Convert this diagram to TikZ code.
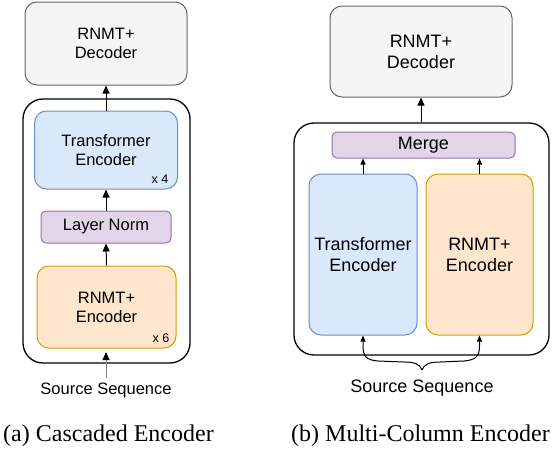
\documentclass[tikz,border=0pt]{standalone}
\usepackage{fontspec}
\setmainfont{Liberation Serif}
\newfontfamily\arialf{Liberation Sans}
\usetikzlibrary{arrows.meta}
\definecolor{grayfill}{HTML}{F5F5F5}
\definecolor{graydraw}{HTML}{666666}
\definecolor{bluefill}{HTML}{DAE8FC}
\definecolor{bluedraw}{HTML}{6C8EBF}
\definecolor{orfill}{HTML}{FFE6CC}
\definecolor{ordraw}{HTML}{D79B00}
\definecolor{pufill}{HTML}{E1D5E7}
\definecolor{pudraw}{HTML}{9673A6}
\tikzset{
  box/.style={rectangle, rounded corners=12pt, inner sep=0pt, align=center, line width=1pt},
  decbox/.style={box, fill=grayfill, draw=graydraw},
  tebox/.style={box, fill=bluefill, draw=bluedraw},
  rebox/.style={box, fill=orfill, draw=ordraw},
  lnbox/.style={box, rounded corners=5pt, fill=pufill, draw=pudraw},
  outerbox/.style={rectangle, rounded corners=20pt, draw=black, line width=1.3pt, inner sep=0pt},
  arr/.style={line width=1pt, -{Triangle[length=8pt,width=7pt]}},
  sarr/.style={line width=1pt, -{Triangle[length=6pt,width=5pt]}},
  lefttxt/.style={font=\arialf\fontsize{16.5}{19}\selectfont},
  righttxt/.style={font=\arialf\fontsize{18}{21}\selectfont},
  smalltxt/.style={font=\arialf\fontsize{12.5}{14}\selectfont, inner sep=0pt},
  captxt/.style={font=\fontsize{24}{28}\selectfont, inner sep=0pt},
}
\begin{document}
\begin{tikzpicture}[x=1pt,y=-1pt]
\useasboundingbox (0,0) rectangle (558,450);
% ---------- left: cascaded ----------
\node[decbox, lefttxt, minimum width=162pt, minimum height=83pt] (dec1) at (106,43.5) {RNMT+\\Decoder};
\node[outerbox, minimum width=167pt, minimum height=264pt] (outer1) at (106.5,231) {};
\node[tebox, lefttxt, minimum width=143pt, minimum height=78pt] (te1) at (106,150) {Transformer\\Encoder};
\node[smalltxt] (x4) at (160,179) {x 4};
\node[lnbox, lefttxt, minimum width=130pt, minimum height=32pt] (ln1) at (106,227) {Layer Norm};
\node[rebox, lefttxt, minimum width=139pt, minimum height=82pt] (re1) at (106.5,307) {RNMT+\\Encoder};
\node[smalltxt] (x6) at (161,338) {x 6};
\node[lefttxt, inner sep=0pt] (src1) at (106,390) {Source Sequence};
\coordinate (src1tip) at (106,352);
\draw[arr] (te1.north) -- (dec1.south);
\draw[arr] (ln1.north) -- (te1.south);
\draw[arr] (re1.north) -- (ln1.south);
\draw[line width=1pt, draw=graydraw!80, -{Triangle[length=8pt,width=7pt,color=black]}] (106,378) -- (src1tip);
\node[captxt] (cap1) at (108.5,436) {(a) Cascaded Encoder};
% ---------- right: multi-column ----------
\node[decbox, righttxt, minimum width=182pt, minimum height=91pt] (dec2) at (421,51.5) {RNMT+\\Decoder};
\node[outerbox, minimum width=255pt, minimum height=232pt] (outer2) at (421.5,239) {};
\node[lnbox, righttxt, minimum width=183pt, minimum height=26pt] (merge) at (423.5,145) {Merge};
\node[tebox, righttxt, minimum width=108pt, minimum height=161pt] (te2) at (363,254.5) {Transformer\\Encoder};
\node[rebox, righttxt, minimum width=107pt, minimum height=161pt] (re2) at (479.5,254.5) {RNMT+\\Encoder};
\node[righttxt, inner sep=0pt] (src2) at (422,388) {Source Sequence};
\coordinate (brace) at (422,370);
\draw[arr] (outer2.north -| dec2.south) -- (dec2.south);
\draw[sarr] (te2.north) -- (te2.north |- merge.south);
\draw[sarr] (re2.north) -- (re2.north |- merge.south);
\draw[sarr] (brace) .. controls (420,364) and (414,362) .. (404,362)
   -- (378,361) .. controls (366,360) and (363,356) .. (363,346) -- (te2.south);
\draw[sarr] (brace) .. controls (424,364) and (430,362) .. (440,362)
   -- (464,361) .. controls (476,360) and (479.5,356) .. (479.5,346) -- (re2.south);
\node[captxt] (cap2) at (420.5,436) {(b) Multi-Column Encoder};
\end{tikzpicture}
\end{document}
